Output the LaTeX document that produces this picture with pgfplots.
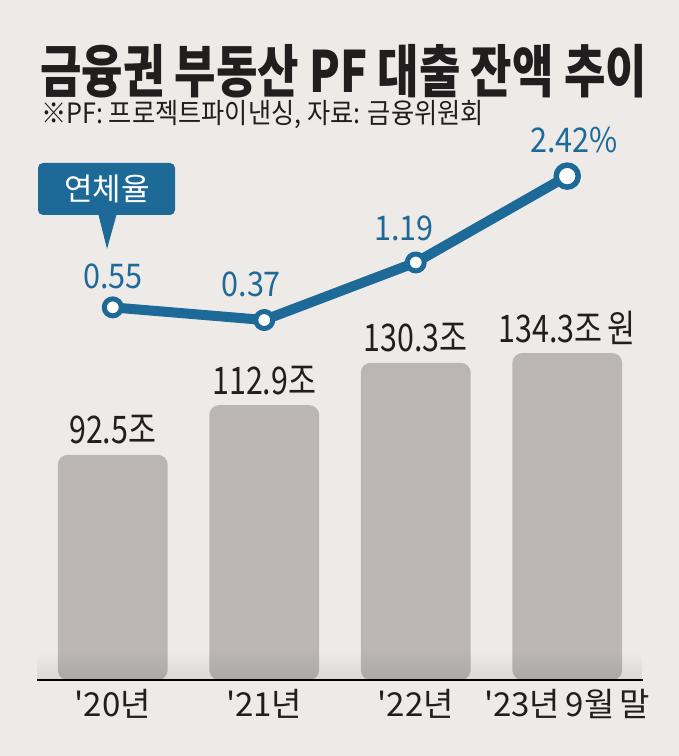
\documentclass[border=0pt]{standalone}
\usepackage{fontspec}
\usepackage{graphicx}
\usepackage{pgfplots}
\usepackage{pgfplotstable}
\pgfplotsset{compat=1.18}
\usetikzlibrary{fadings}
\newfontfamily\kr{Noto Sans CJK KR}
\definecolor{bg}{RGB}{238,234,231}
\definecolor{bargray}{RGB}{187,182,179}
\definecolor{pfblue}{RGB}{29,106,153}
\definecolor{ink}{RGB}{32,30,30}
\definecolor{baseline}{RGB}{140,136,134}

\pgfplotstableread{
x v lab
0 92.5 92.5조
1 112.9 112.9조
2 130.3 130.3조
3 134.3 {134.3조\,원}
}\bartable

\pgfplotstableread{
x r
0 0.55
1 0.37
2 1.19
3 2.42
}\ratetable

\newcommand\cond[2]{\scalebox{#1}[1]{#2}}

\pgfplotsset{base/.style={at={(37pt,76pt)}, anchor=south west,
  scale only axis, width=606pt, height=550pt, xmin=-0.5, xmax=3.5}}

\begin{document}
\begin{tikzpicture}[x=1pt,y=1pt]
\fill[bg] (0,0) rectangle (679,756);

% title
\node[anchor=base west, inner sep=0, text=ink] at (40,663)
  {\kr\fontsize{57}{60}\selectfont\bfseries\cond{0.79}{금융권 부동산 PF 대출 잔액 추이}};
\node[anchor=base west, inner sep=0, text=ink] at (41,632)
  {\kr\fontsize{28}{30}\selectfont\cond{0.9}{※PF: 프로젝트파이낸싱, 자료: 금융위원회}};

% bars
\begin{axis}[base, ymin=0, ymax=225.9,
  axis y line=none, axis x line=bottom, axis line style={draw=none},
  xtick={0,1,2,3}, major tick length=0pt,
  xticklabels={{'20년},{'21년},{'22년},{'23년\,9월\,말}},
  xticklabel style={anchor=base, yshift=-37pt, text=ink,
    font=\kr\fontsize{33}{36}\selectfont},
  ybar, bar width=0.725,
  nodes near coords={\cond{0.8}{\pgfplotspointmeta}},
  every node near coord/.append style={anchor=base, yshift=11pt, text=ink,
    font=\kr\fontsize{38}{40}\selectfont},
  clip=false]
\addplot[fill=bargray, draw=none, rounded corners=10pt,
  point meta=explicit symbolic] table[x=x, y=v, meta=lab] {\bartable};
\end{axis}

% fog at the bottom
\fill[black, fill opacity=0.08, path fading=north] (37,76) rectangle (643,104);
\draw[baseline, line width=2pt] (37,76) -- (643,76);

% delinquency rate line
\begin{axis}[base, ymin=-4.758, ymax=3.077, hide axis, clip=false]
\addplot[pfblue, line width=10pt, line join=round,
  mark=*, mark size=8.5pt, mark options={fill=white, draw=pfblue, line width=5pt}]
  table[x=x, y=r] {\ratetable};
\addplot[only marks, mark=*, mark size=11pt,
  mark options={fill=white, draw=pfblue, line width=5.5pt}]
  coordinates {(3,2.42)};
\begin{scope}[every node/.style={anchor=base, text=pfblue,
    font=\kr\fontsize{34}{36}\selectfont}]
\node[yshift=19pt] at (axis cs:0,0.55) {\cond{0.9}{0.55}};
\node[yshift=24pt, xshift=-13pt] at (axis cs:1,0.37) {\cond{0.9}{0.37}};
\node[yshift=22pt, xshift=-12pt] at (axis cs:2,1.19) {\cond{0.9}{1.19}};
\node[yshift=24pt, xshift=7pt] at (axis cs:3,2.42) {\cond{0.9}{2.42\%}};
\end{scope}
\end{axis}

% callout
\fill[pfblue, rounded corners=5pt] (38,541) rectangle (175,593);
\fill[pfblue] (98,543) -- (117,543) -- (107,507) -- cycle;
\node[text=white, inner sep=0] at (107,567)
  {\kr\fontsize{31}{33}\selectfont 연체율};
\end{tikzpicture}
\end{document}
